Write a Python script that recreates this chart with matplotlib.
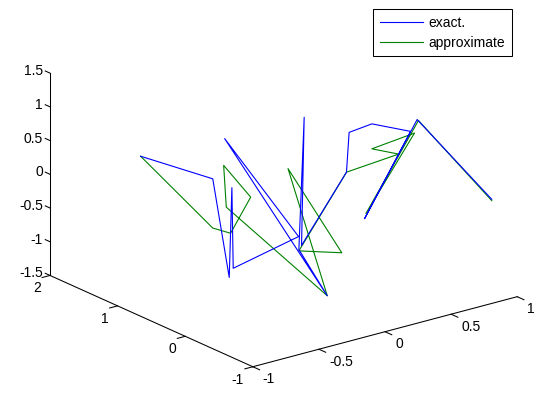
import numpy as np
import matplotlib
matplotlib.use('Agg')
import matplotlib.pyplot as plt

plt.rcParams['font.family'] = ['Liberation Sans', 'DejaVu Sans']

# exact trajectory (x, y, z)
x_exact = [-0.57, -0.28, -0.36, -0.34, -0.33, -0.04, -0.19, -0.13, -0.14, -0.10,
           -0.12, 0.22, 0.24, 0.31, 0.50, 0.05, 0.55, 0.91]
y_exact = [1.5, 1.0, 0.6, 0.6, 0.6, 0.2, 1.0, -0.4, 0.0, 0.0,
           0.0, 0.0, 0.0, -0.2, -0.4, -0.6, -0.4, -0.8]
z_exact = [0.27, 0.01, -1.23, 0.09, -1.11, -0.61, 0.56, -1.17, -0.66, 1.28,
           -0.61, 0.30, 0.88, 1.06, 0.94, -0.03, 1.09, -0.10]

# approximate trajectory
x_approx = [-0.57, -0.28, -0.35, -0.30, -0.30, -0.28, -0.13, -0.12, -0.02,
            -0.14, 0.22, 0.41, 0.31, 0.53, 0.06, 0.56, 0.91]
y_approx = [1.5, 1.0, 0.6, 0.4, 0.8, 0.8, -0.4, 0.2, -0.4,
            0.0, 0.0, -0.4, -0.2, -0.4, -0.6, -0.4, -0.8]
z_approx = [0.27, -0.72, -0.58, 0.02, 0.31, -0.32, -1.17, 0.44, -0.59,
            -0.68, 0.30, 0.65, 0.69, 0.90, 0.04, 1.07, -0.12]

xticks = [-1, -0.5, 0, 0.5, 1]
yticks = [-1, 0, 1, 2]
zticks = [-1.5, -1, -0.5, 0, 0.5, 1, 1.5]
xlim, ylim, zlim = (-1, 1), (-1, 2), (-1.5, 1.5)

W, H = 543, 397
fig = plt.figure(figsize=(W / 100, H / 100), dpi=100)
ax = fig.add_axes([0, 0, 1, 1], projection='3d', proj_type='ortho')
ax.view_init(elev=20.2, azim=-127.5)
ax.set_box_aspect((1, 1, 0.647))
ax.set_xlim(*xlim)
ax.set_ylim(*ylim)
ax.set_zlim(*zlim)
ax.set_axis_off()


def place(L, c):
    ax.set_position([(c[0] - L / 2) / W, (c[1] - L / 2) / H, L / W, L / H])


L0, c0 = 300.0, np.array([W / 2, H / 2])
place(L0, c0)

# green first so the blue one sits on top where they coincide
l2, = ax.plot(x_approx, y_approx, z_approx, color=(0, 0.5, 0), lw=0.8, label='approximate')
l1, = ax.plot(x_exact, y_exact, z_exact, color=(0, 0, 1), lw=0.8, label='exact.')

# MATLAB style axes: only three box edges
x0, x1 = xlim
y0, y1 = ylim
z0, z1 = zlim
ak = dict(color='black', lw=0.75)
ax.plot([x0, x1], [y0, y0], [z0, z0], **ak)
ax.plot([x0, x0], [y0, y1], [z0, z0], **ak)
ax.plot([x0, x0], [y1, y1], [z0, z1], **ak)
for t in xticks:
    ax.plot([t, t], [y0, y0 - 0.1], [z0, z0], **ak)
for t in yticks:
    ax.plot([x0, x0 - 0.06], [t, t], [z0, z0], **ak)
for t in zticks:
    ax.plot([x0, x0], [y1, y1 + 0.07], [t, t], **ak)


def to_px(p):
    v = ax.M @ np.array([p[0], p[1], p[2], 1.0])
    return ax.transData.transform((v[0] / v[3], v[1] / v[3]))


# fit the projected box onto the reference pixel positions
fig.canvas.draw()
corners = [(x0, y0, z0), (x1, y0, z0), (x0, y1, z1), (x0, y1, z0)]
targets = np.array([(253, H - 367), (517, H - 297), (50, H - 73), (50, H - 275)], float)
m = np.array([to_px(p) for p in corners])
mc, tc = m - m.mean(0), targets - targets.mean(0)
k = (mc * tc).sum() / (mc * mc).sum()
c1 = targets.mean(0) - k * m.mean(0) + k * c0
place(k * L0, c1)
fig.canvas.draw()

# tick labels, placed next to the projected tick positions
fs = 10
for t in xticks:
    px, py = to_px((t, y0, z0))
    fig.text((px + 10) / W, (py - 12.5) / H, '%g' % t, ha='left', va='center', fontsize=fs)
for t in yticks:
    px, py = to_px((x0, t, z0))
    fig.text((px - 9) / W, (py - 13) / H, '%g' % t, ha='right', va='center', fontsize=fs)
for t in zticks:
    px, py = to_px((x0, y1, t))
    fig.text((px - 7) / W, (py + 2) / H, '%g' % t, ha='right', va='center', fontsize=fs)

leg = ax.legend(handles=[l1, l2], loc='upper right',
                bbox_to_anchor=(512 / W, 1 - 9 / H), bbox_transform=fig.transFigure,
                fancybox=False, framealpha=1, edgecolor='black', borderaxespad=0,
                fontsize=fs, handlelength=3.1, handletextpad=0.36,
                labelspacing=0.4, borderpad=0.5)
leg.get_frame().set_linewidth(0.75)

fig.savefig('out.png', dpi=100)
